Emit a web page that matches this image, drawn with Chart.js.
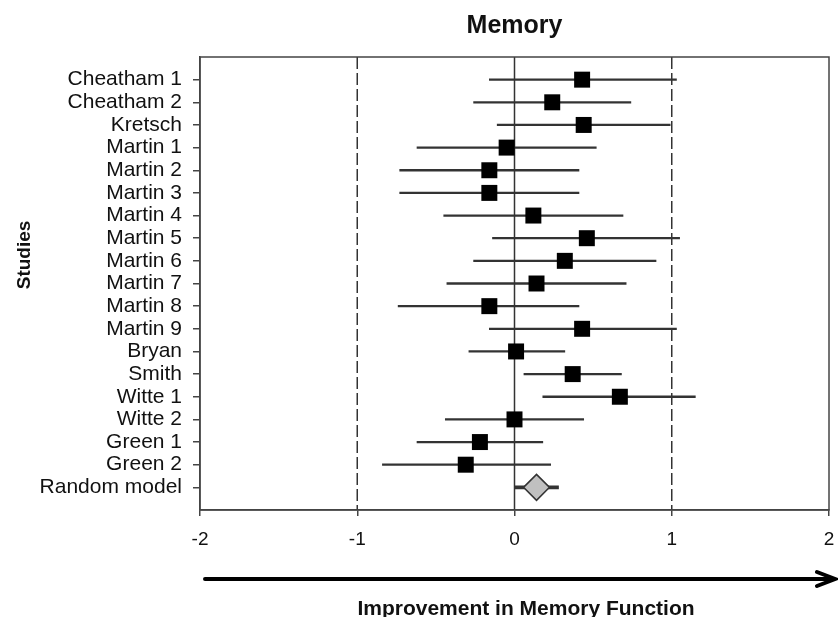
<!DOCTYPE html>
<html>
<head>
<meta charset="utf-8">
<title>Memory</title>
<script src="https://cdn.jsdelivr.net/npm/chart.js@4.4.1/dist/chart.umd.min.js"></script>
<style>
  html, body { margin: 0; padding: 0; background: #fff; }
  #forest { display: block; }
</style>
</head>
<body>
<canvas id="forest" width="838" height="617"></canvas>
<script>
const studies = [
  "Cheatham 1", "Cheatham 2", "Kretsch", "Martin 1", "Martin 2", "Martin 3",
  "Martin 4", "Martin 5", "Martin 6", "Martin 7", "Martin 8", "Martin 9",
  "Bryan", "Smith", "Witte 1", "Witte 2", "Green 1", "Green 2"
];
const effect = [
  0.43, 0.24, 0.44, -0.05, -0.16, -0.16, 0.12, 0.46, 0.32, 0.14, -0.16, 0.43,
  0.01, 0.37, 0.67, 0.00, -0.22, -0.31
];
const lower = [
  -0.16, -0.26, -0.11, -0.62, -0.73, -0.73, -0.45, -0.14, -0.26, -0.43, -0.74, -0.16,
  -0.29, 0.06, 0.18, -0.44, -0.62, -0.84
];
const upper = [
  1.03, 0.74, 0.99, 0.52, 0.41, 0.41, 0.69, 1.05, 0.90, 0.71, 0.41, 1.03,
  0.32, 0.68, 1.15, 0.44, 0.18, 0.23
];
const pooledLabel = "Random model";
const pooledEffect = 0.14;
const pooledLower = 0.0;
const pooledUpper = 0.28;
const refLines = [-1, 0, 1];
const xTicks = [-2, -1, 0, 1, 2];

const rowLabels = studies.concat([pooledLabel]);
const FONT = "'Liberation Sans', Arial, sans-serif";
const INK = "#333";

// extra drawing: frame, x tick labels, titles, arrow
const decorations = {
  id: "decorations",
  afterDraw(chart) {
    const c = chart.ctx;
    const a = chart.chartArea;
    const xs = chart.scales.x;
    c.save();
    c.strokeStyle = "#444";
    c.lineWidth = 1.5;
    c.strokeRect(a.left, a.top, a.right - a.left, a.bottom - a.top);

    c.fillStyle = "#111";
    c.textAlign = "center";
    c.textBaseline = "middle";
    c.font = "19px " + FONT;
    xTicks.forEach((v) => {
      c.fillText(String(v), xs.getPixelForValue(v), a.bottom + 30);
    });

    c.textBaseline = "alphabetic";
    c.font = "bold 25px " + FONT;
    c.fillText("Memory", (a.left + a.right) / 2, 33);

    c.font = "bold 21px " + FONT;
    c.fillText("Improvement in Memory Function", 526, 615);

    c.save();
    c.translate(30, a.top + (a.bottom - a.top) * 0.437);
    c.rotate(-Math.PI / 2);
    c.font = "bold 19px " + FONT;
    c.fillText("Studies", 0, 0);
    c.restore();

    c.strokeStyle = "#000";
    c.lineWidth = 4;
    c.lineCap = "round";
    c.beginPath();
    c.moveTo(205, 579);
    c.lineTo(834, 579);
    c.moveTo(817, 572);
    c.lineTo(835, 579);
    c.lineTo(817, 586);
    c.stroke();
    c.restore();
  }
};

const ctx = document.getElementById("forest").getContext("2d");
const forestChart = new Chart(ctx, {
  type: "scatter",
  data: {
    datasets: [
      ...refLines.map((v) => ({
        type: "line",
        data: [{ x: v, y: 0 }, { x: v, y: rowLabels.length + 1 }],
        borderColor: INK,
        borderWidth: 1.5,
        borderDash: v === 0 ? [] : [12, 4],
        pointRadius: 0,
        order: 5,
      })),
      {
        type: "bar",
        indexAxis: "y",
        grouped: false,
        data: studies.map((s, i) => ({ x: [lower[i], upper[i]], y: i + 1 })),
        backgroundColor: INK,
        barThickness: 1.6,
        order: 3,
      },
      {
        type: "bar",
        indexAxis: "y",
        grouped: false,
        data: [{ x: [pooledLower, pooledUpper], y: rowLabels.length }],
        backgroundColor: INK,
        barThickness: 3,
        order: 3,
      },
      {
        data: studies.map((s, i) => ({ x: effect[i], y: i + 1 })),
        pointStyle: "rect",
        pointRadius: 11.3,
        backgroundColor: "#000",
        borderWidth: 0,
        order: 1,
      },
      {
        data: [{ x: pooledEffect, y: rowLabels.length }],
        pointStyle: "rectRot",
        pointRadius: 13,
        backgroundColor: "#c0c0c0",
        borderColor: INK,
        borderWidth: 1.5,
        order: 0,
      },
    ],
  },
  options: {
    responsive: false,
    animation: false,
    events: [],
    layout: { autoPadding: false, padding: { top: 57, right: 9, left: 0, bottom: 0 } },
    plugins: { legend: { display: false }, tooltip: { enabled: false } },
    scales: {
      x: {
        type: "linear",
        min: -2,
        max: 2,
        offset: false,
        afterFit: (scale) => { scale.height = 107; },
        afterBuildTicks: (scale) => { scale.ticks = xTicks.map((v) => ({ value: v })); },
        grid: { offset: false, drawOnChartArea: false, tickLength: 6, color: "#444", lineWidth: 1.5 },
        border: { color: "#444", width: 1.5 },
        ticks: { display: false },
      },
      y: {
        type: "linear",
        reverse: true,
        min: 0,
        max: rowLabels.length + 1,
        offset: false,
        afterFit: (scale) => { scale.width = 200; },
        afterBuildTicks: (scale) => { scale.ticks = rowLabels.map((s, i) => ({ value: i + 1 })); },
        grid: { offset: false, drawOnChartArea: false, tickLength: 7, color: "#444", lineWidth: 1.5 },
        border: { color: "#444", width: 1.5 },
        ticks: {
          autoSkip: false,
          color: "#111",
          font: { family: FONT, size: 21 },
          padding: 11,
          callback: (v) => rowLabels[v - 1],
        },
      },
    },
  },
  plugins: [decorations],
});
</script>
</body>
</html>
